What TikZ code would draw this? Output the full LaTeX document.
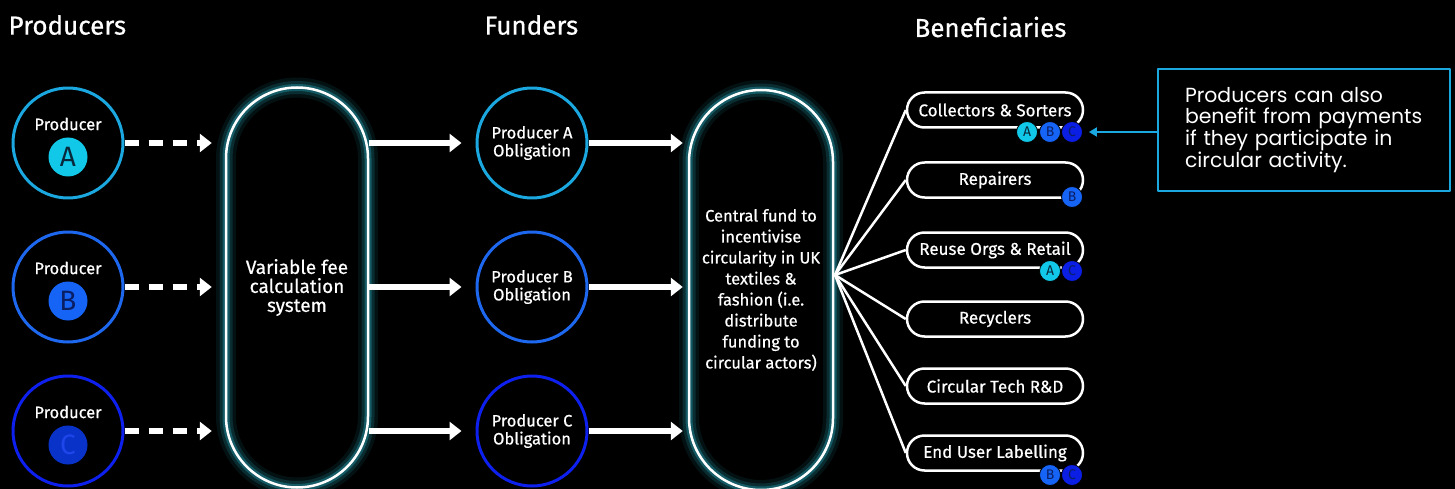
\documentclass[tikz,border=0pt]{standalone}
\usepackage{fontspec}
\setmainfont{Fira Sans}[FakeBold=0.6]
\newfontfamily\notefont{Poppins}
\newfontfamily\letterfont{Fira Sans}
\usetikzlibrary{arrows.meta}
\definecolor{ca}{RGB}{27,168,224}
\definecolor{cb}{RGB}{30,104,240}
\definecolor{cc}{RGB}{14,32,238}
\definecolor{fa}{RGB}{18,200,232}
\definecolor{fb}{RGB}{22,100,245}
\definecolor{fc}{RGB}{8,50,200}
\definecolor{bc}{RGB}{10,30,228}
\definecolor{ta}{RGB}{8,40,60}
\definecolor{tb}{RGB}{10,30,100}
\definecolor{tc}{RGB}{30,70,235}
\definecolor{glow}{RGB}{40,175,195}
\begin{document}
\begin{tikzpicture}[x=1pt,y=-1pt,line join=round,
  every node/.style={text=white,font=\fontsize{16.5}{18}\selectfont}]
\tikzset{
  prod/.style={circle,draw=#1,line width=3pt,minimum size=110pt,inner sep=0pt},
  letter/.style={circle,fill=#1,minimum size=39pt,inner sep=0pt,font=\letterfont\fontsize{28}{28}\selectfont},
  pill/.style={draw=white,line width=2.5pt,rounded corners=71pt,minimum width=142pt,minimum height=400pt,align=center,
    preaction={draw=glow,line width=20pt,draw opacity=.1},
    preaction={draw=glow,line width=13pt,draw opacity=.18},
    preaction={draw=glow,line width=7pt,draw opacity=.35}},
  ben/.style={draw=white,line width=2.5pt,rounded corners=17.5pt,minimum width=176pt,minimum height=35pt,inner sep=0pt,
    font=\fontsize{17}{18}\selectfont},
  badge/.style={circle,fill=#1,draw=black,line width=.8pt,minimum size=21pt,inner sep=0pt,font=\letterfont\fontsize{14}{14}\selectfont},
  dasharrow/.style={white,line width=6pt,dash pattern=on 14pt off 10pt,-{Triangle[width=18pt,length=12pt]}},
  fullarrow/.style={white,line width=6pt,-{Triangle[width=18pt,length=12pt]}},
  head/.style={anchor=west,font=\fontsize{26}{26}\selectfont}
}
\fill[black] (0,0) rectangle (1455,489);
\useasboundingbox (0,0) rectangle (1455,489);
% headings
\node[head] (hprod) at (5,25) {Producers};
\node[head] (hfund) at (481,25) {Funders};
\node[head] (hben) at (911,27) {Beneficiaries};
% producers
\foreach \l/\y/\c/\f/\t in {A/143/ca/fa/ta,B/287/cb/fb/tb,C/431/cc/fc/tc}
{
\node[prod=\c] (p\l) at (68,\y) {};
\node (pt\l) at (68,\y-19) {Producer};
\node[letter=\f,text=\t] (pl\l) at (68,\y+14) {\l};
}
% systems
\node[pill,font=\fontsize{19}{19}\selectfont] (fee) at (297,287.5) {Variable fee\\calculation\\system};
\node[pill,minimum width=144pt,rounded corners=72pt,font=\fontsize{16.5}{21}\selectfont] (fund) at (761,290)
  {Central fund to\\incentivise\\circularity in UK\\textiles \&\\fashion (i.e.\\distribute\\funding to\\circular actors)};
% funders
\foreach \l/\y/\c in {A/143/ca,B/287/cb,C/431/cc}
{
\node[prod=\c,align=center] (o\l) at (532,\y) {Producer \l\\Obligation};
\draw[dasharrow,shorten >=13pt] (p\l) -- (fee.west |- p\l);
\draw[fullarrow,shorten >=14pt] (fee.east |- o\l) -- (o\l);
\draw[fullarrow,shorten >=5pt] (o\l) -- (fund.west |- o\l);
}
% beneficiaries
\coordinate (hub) at (835,275);
\foreach \i/\y/\txt in {1/110/Collectors \& Sorters,2/180/Repairers,3/250/Reuse Orgs \& Retail,4/319/Recyclers,5/386/Circular Tech R\&D,6/453/End User Labelling}
{
\node[ben] (b\i) at (995,\y) {\txt};
\draw[white,line width=2.5pt] (hub) -- (b\i.west);
}
\node[badge=fa,text=ta] (b1a) at (1027,132) {A};
\node[badge=fb,text=tb] (b1b) at (1050,132) {B};
\node[badge=bc,text=tb] (b1c) at (1072,132) {C};
\node[badge=fb,text=tb] (b2b) at (1072,197) {B};
\node[badge=fa,text=ta] (b3a) at (1050,271) {A};
\node[badge=bc,text=tb] (b3c) at (1072,271) {C};
\node[badge=fb,text=tb] (b6b) at (1050,475) {B};
\node[badge=bc,text=tb] (b6c) at (1072,475) {C};
% note
\node[draw=ca,line width=2pt,minimum width=292pt,minimum height=122pt,text width=238pt,inner xsep=27pt,align=left,
  font=\notefont\fontsize{20.4}{20.7}\selectfont] (note) at (1304,130)
  {Producers can also\\\mbox{benefit from payments}\\if they participate in\\circular activity.};
\draw[ca,line width=2.5pt,-{Triangle[width=9pt,length=8pt]},shorten >=6pt] (note.west |- b1c) -- (b1c.east);
\end{tikzpicture}
\end{document}
